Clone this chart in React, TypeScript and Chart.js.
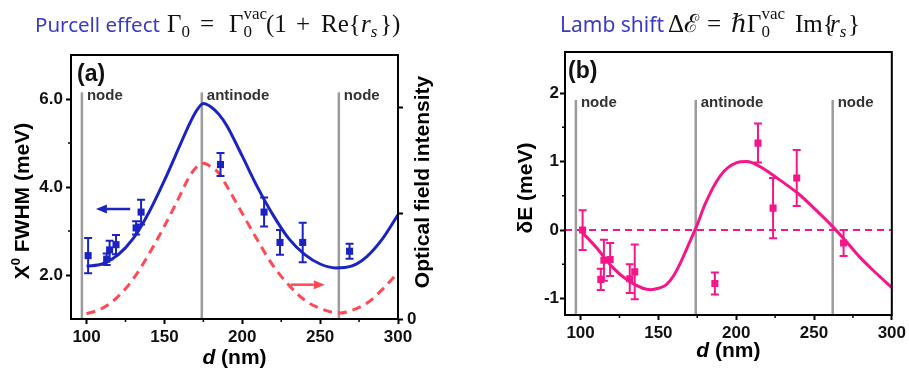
import React, { useEffect, useRef } from 'react';
import { Chart, registerables } from 'chart.js';
Chart.register(...registerables);

// ---------------- data ----------------
const X_MIN = 90;
const X_MAX = 300;
const xTickValues = [100, 150, 200, 250, 300];
const xMinorTicks = [125, 175, 225, 275];

const fwhmTicks = [2, 4, 6];
const fwhmMinor = [3, 5];
const intensityTicks = [0, 0.5, 1];
const shiftTicks = [-1, 0, 1, 2];
const shiftMinor = [-0.5, 0.5, 1.5];

// (a) fitted FWHM curve
const fwhmFitD = [100, 110, 120, 130, 140, 150, 160, 165, 170, 175, 180, 185, 190, 200, 210, 220, 230, 240, 250, 260, 270, 280, 290, 300];
const fwhmFitVal = [2.2, 2.25, 2.45, 2.83, 3.42, 4.15, 4.95, 5.35, 5.7, 5.9, 5.82, 5.65, 5.4, 4.7, 3.98, 3.35, 2.82, 2.47, 2.25, 2.16, 2.2, 2.42, 2.82, 3.37];

// (a) optical field intensity (right axis)
const intensityD = [100, 110, 120, 130, 140, 150, 160, 165, 170, 175, 180, 185, 190, 200, 210, 220, 230, 240, 250, 262, 270, 280, 290, 300];
const intensityVal = [0.025, 0.05, 0.105, 0.19, 0.307, 0.44, 0.585, 0.66, 0.715, 0.737, 0.72, 0.69, 0.63, 0.5, 0.37, 0.25, 0.16, 0.09, 0.05, 0.028, 0.04, 0.075, 0.14, 0.22];

// (a) measured FWHM
const fwhmD = [101, 112.9, 114.8, 118.9, 131.8, 135, 186, 214, 224.2, 238.8, 268.9];
const fwhmVal = [2.44, 2.36, 2.57, 2.69, 3.07, 3.43, 4.51, 3.43, 2.74, 2.74, 2.54];
const fwhmErr = [0.4, 0.13, 0.21, 0.22, 0.15, 0.28, 0.26, 0.33, 0.28, 0.45, 0.17];

// (b) fitted Lamb shift curve
const shiftFitD = [100, 110, 120, 130, 140, 145, 150, 155, 160, 165, 170, 175, 180, 190, 200, 207, 215, 220, 230, 240, 250, 262, 270, 280, 290, 300];
const shiftFitVal = [-0.01, -0.25, -0.53, -0.73, -0.85, -0.87, -0.85, -0.8, -0.66, -0.44, -0.18, 0.08, 0.38, 0.8, 0.98, 1.0, 0.93, 0.86, 0.7, 0.53, 0.32, 0.05, -0.15, -0.41, -0.63, -0.84];

// (b) measured shift
const shiftD = [101.3, 113, 115, 119, 131.6, 134.8, 186.3, 214, 223.7, 238.9, 269];
const shiftVal = [0, -0.72, -0.44, -0.43, -0.71, -0.61, -0.78, 1.27, 0.32, 0.76, -0.19];
const shiftErr = [0.29, 0.155, 0.3, 0.24, 0.21, 0.4, 0.16, 0.285, 0.44, 0.41, 0.19];

const zeroLineD = [X_MIN, X_MAX];
const zeroLineVal = [0, 0];

const nodeD = [97, 174, 262];
const nodeNames = ['node', 'antinode', 'node'];

// ---------------- styles ----------------
const BLUE = '#1b24c0';
const RED = '#ff4a55';
const PINK = '#f5168a';
const GRAY = '#9b9b9b';
const SANS = '"Liberation Sans", Arial, sans-serif';

Chart.defaults.font.family = SANS;

type Part = { t: string; font: string; rise?: number };

function drawRich(ctx: CanvasRenderingContext2D, parts: Part[], cx: number, by: number, rotate: boolean) {
  ctx.save();
  ctx.fillStyle = '#000';
  ctx.textBaseline = 'alphabetic';
  ctx.textAlign = 'left';
  let total = 0;
  const widths = parts.map((p) => {
    ctx.font = p.font;
    const w = ctx.measureText(p.t).width;
    total += w;
    return w;
  });
  if (rotate) {
    ctx.translate(by, cx);
    ctx.rotate(-Math.PI / 2);
  } else {
    ctx.translate(cx, by);
  }
  let x = -total / 2;
  parts.forEach((p, i) => {
    ctx.font = p.font;
    ctx.fillText(p.t, x, -(p.rise || 0));
    x += widths[i];
  });
  ctx.restore();
}

function drawArrow(ctx: CanvasRenderingContext2D, x1: number, x2: number, y: number, color: string) {
  const dir = Math.sign(x2 - x1);
  const hl = 11;
  const hw = 4.5;
  ctx.save();
  ctx.strokeStyle = color;
  ctx.fillStyle = color;
  ctx.lineWidth = 2.5;
  ctx.beginPath();
  ctx.moveTo(x1, y);
  ctx.lineTo(x2 - dir * hl, y);
  ctx.stroke();
  ctx.beginPath();
  ctx.moveTo(x2, y);
  ctx.lineTo(x2 - dir * hl, y - hw);
  ctx.lineTo(x2 - dir * hl, y + hw);
  ctx.closePath();
  ctx.fill();
  ctx.restore();
}

type DecorCfg = {
  nodeTop: number;
  labelBaseline: number;
  minorY: number[];
  errD: number[];
  errVal: number[];
  errSize: number[];
  errColor: string;
  panel: string;
  panelX: number;
  panelY: number;
  extra: (chart: any, ctx: CanvasRenderingContext2D) => void;
};

function decor(cfg: DecorCfg) {
  return {
    id: 'decor',
    beforeDatasetsDraw(chart: any) {
      const ctx = chart.ctx as CanvasRenderingContext2D;
      const xs = chart.scales.x;
      const ys = chart.scales.y;
      const a = chart.chartArea;
      ctx.save();
      ctx.strokeStyle = GRAY;
      ctx.lineWidth = 2.5;
      nodeD.forEach((d) => {
        const x = xs.getPixelForValue(d);
        ctx.beginPath();
        ctx.moveTo(x, ys.getPixelForValue(cfg.nodeTop));
        ctx.lineTo(x, a.bottom);
        ctx.stroke();
      });
      ctx.fillStyle = '#333';
      ctx.font = `bold 15px ${SANS}`;
      ctx.textBaseline = 'alphabetic';
      nodeD.forEach((d, i) => {
        const x = xs.getPixelForValue(d);
        ctx.fillText(nodeNames[i], x + 5, cfg.labelBaseline);
      });
      ctx.restore();
    },
    afterDatasetsDraw(chart: any) {
      const ctx = chart.ctx as CanvasRenderingContext2D;
      const xs = chart.scales.x;
      const ys = chart.scales.y;
      ctx.save();
      ctx.strokeStyle = cfg.errColor;
      ctx.lineWidth = 2;
      cfg.errD.forEach((d, i) => {
        const x = xs.getPixelForValue(d);
        const y1 = ys.getPixelForValue(cfg.errVal[i] + cfg.errSize[i]);
        const y2 = ys.getPixelForValue(cfg.errVal[i] - cfg.errSize[i]);
        ctx.beginPath();
        ctx.moveTo(x, y1);
        ctx.lineTo(x, y2);
        ctx.moveTo(x - 4, y1);
        ctx.lineTo(x + 4, y1);
        ctx.moveTo(x - 4, y2);
        ctx.lineTo(x + 4, y2);
        ctx.stroke();
      });
      ctx.restore();
    },
    afterDraw(chart: any) {
      const ctx = chart.ctx as CanvasRenderingContext2D;
      const a = chart.chartArea;
      const xs = chart.scales.x;
      const ys = chart.scales.y;
      ctx.save();
      ctx.strokeStyle = '#000';
      ctx.lineWidth = 2;
      ctx.strokeRect(a.left, a.top, a.right - a.left, a.bottom - a.top);
      ctx.lineWidth = 1.5;
      ctx.beginPath();
      xMinorTicks.forEach((v) => {
        const x = xs.getPixelForValue(v);
        ctx.moveTo(x, a.bottom);
        ctx.lineTo(x, a.bottom + 3);
      });
      cfg.minorY.forEach((v) => {
        const y = ys.getPixelForValue(v);
        ctx.moveTo(a.left, y);
        ctx.lineTo(a.left - 3, y);
      });
      ctx.stroke();
      ctx.fillStyle = '#111';
      ctx.font = `bold 23px ${SANS}`;
      ctx.textBaseline = 'alphabetic';
      ctx.fillText(cfg.panel, cfg.panelX, cfg.panelY);
      ctx.restore();
      cfg.extra(chart, ctx);
    },
  };
}

const tickFont = { family: SANS, size: 17, weight: 'bold' as const };

function xScale(height: number) {
  return {
    type: 'linear',
    position: 'bottom',
    min: X_MIN,
    max: X_MAX,
    afterBuildTicks: (s: any) => {
      s.ticks = xTickValues.map((v) => ({ value: v }));
    },
    afterFit: (s: any) => {
      s.height = height;
    },
    ticks: { font: tickFont, color: '#111', padding: 3, maxRotation: 0, autoSkip: false },
    grid: { drawOnChartArea: false, tickLength: 5, tickWidth: 2, tickColor: '#000' },
    border: { display: false },
  };
}

const pts = (xs: number[], ys: number[]) => xs.map((x, i) => ({ x, y: ys[i] }));

// positioned math pieces for the headings
const SERIF = '"Liberation Serif", "DejaVu Serif", serif';
type Piece = { x: number; t: React.ReactNode };

export default function App() {
  const refA = useRef<HTMLCanvasElement>(null);
  const refB = useRef<HTMLCanvasElement>(null);

  useEffect(() => {
    const chartA = new Chart(refA.current as HTMLCanvasElement, {
      type: 'line',
      data: {
        datasets: [
          {
            data: pts(fwhmD, fwhmVal),
            showLine: false,
            pointStyle: 'rect',
            pointRadius: 5,
            backgroundColor: BLUE,
            borderColor: BLUE,
            borderWidth: 0,
            yAxisID: 'y',
          },
          {
            data: pts(fwhmFitD, fwhmFitVal),
            borderColor: BLUE,
            borderWidth: 3,
            pointRadius: 0,
            cubicInterpolationMode: 'monotone',
            yAxisID: 'y',
          },
          {
            data: pts(intensityD, intensityVal),
            borderColor: RED,
            borderWidth: 3,
            borderDash: [9, 6],
            pointRadius: 0,
            cubicInterpolationMode: 'monotone',
            yAxisID: 'y2',
          },
        ],
      } as any,
      options: {
        animation: false,
        responsive: false,
        events: [],
        layout: { padding: { top: 55, left: 0, right: 0, bottom: 0 } },
        plugins: { legend: { display: false }, tooltip: { enabled: false } },
        scales: {
          x: xScale(52),
          y: {
            type: 'linear',
            position: 'left',
            min: 1,
            max: 7,
            afterBuildTicks: (s: any) => {
              s.ticks = fwhmTicks.map((v) => ({ value: v }));
            },
            afterFit: (s: any) => {
              s.width = 71;
            },
            ticks: { font: tickFont, color: '#111', padding: 3, callback: (v: any) => Number(v).toFixed(1) },
            grid: { drawOnChartArea: false, tickLength: 5, tickWidth: 2, tickColor: '#000' },
            border: { display: false },
          },
          y2: {
            type: 'linear',
            position: 'right',
            min: 0,
            max: 1.25,
            afterBuildTicks: (s: any) => {
              s.ticks = intensityTicks.map((v) => ({ value: v }));
            },
            afterFit: (s: any) => {
              s.width = 62;
            },
            ticks: { font: tickFont, color: '#111', padding: 4, callback: (v: any) => (v === 0 ? '0' : '') },
            grid: { drawOnChartArea: false, tickLength: 5, tickWidth: 2, tickColor: '#000' },
            border: { display: false },
          },
        },
      } as any,
      plugins: [
        decor({
          nodeTop: 6.15,
          labelBaseline: 100,
          minorY: fwhmMinor,
          errD: fwhmD,
          errVal: fwhmVal,
          errSize: fwhmErr,
          errColor: BLUE,
          panel: '(a)',
          panelX: 77,
          panelY: 81,
          extra: (chart: any, ctx: CanvasRenderingContext2D) => {
            const xs = chart.scales.x;
            const ys = chart.scales.y;
            drawArrow(ctx, xs.getPixelForValue(128), xs.getPixelForValue(106), ys.getPixelForValue(3.5), BLUE);
            drawArrow(ctx, xs.getPixelForValue(231), xs.getPixelForValue(253), ys.getPixelForValue(1.78), RED);
            const f = `bold 21px ${SANS}`;
            drawRich(ctx, [
              { t: 'X', font: f },
              { t: '0', font: `bold 13px ${SANS}`, rise: 9 },
              { t: ' FWHM (meV)', font: f },
            ], 201, 29, true);
            drawRich(ctx, [{ t: 'Optical field intensity', font: f }], 182, 429, true);
            drawRich(ctx, [
              { t: 'd', font: `italic bold 21px ${SANS}` },
              { t: ' (nm)', font: f },
            ], (chart.chartArea.left + chart.chartArea.right) / 2, 364, false);
          },
        }) as any,
      ],
    });

    const chartB = new Chart(refB.current as HTMLCanvasElement, {
      type: 'line',
      data: {
        datasets: [
          {
            data: pts(shiftD, shiftVal),
            showLine: false,
            pointStyle: 'rect',
            pointRadius: 5,
            backgroundColor: PINK,
            borderColor: PINK,
            borderWidth: 0,
          },
          {
            data: pts(shiftFitD, shiftFitVal),
            borderColor: PINK,
            borderWidth: 3,
            pointRadius: 0,
            cubicInterpolationMode: 'monotone',
          },
          {
            data: pts(zeroLineD, zeroLineVal),
            borderColor: PINK,
            borderWidth: 2,
            borderDash: [7, 5],
            pointRadius: 0,
          },
        ],
      } as any,
      options: {
        animation: false,
        responsive: false,
        events: [],
        layout: { padding: { top: 52, left: 0, right: 0, bottom: 0 } },
        plugins: { legend: { display: false }, tooltip: { enabled: false } },
        scales: {
          x: xScale(56),
          y: {
            type: 'linear',
            position: 'left',
            min: -1.24,
            max: 2.6,
            afterBuildTicks: (s: any) => {
              s.ticks = shiftTicks.map((v) => ({ value: v }));
            },
            afterFit: (s: any) => {
              s.width = 105;
            },
            ticks: { font: tickFont, color: '#111', padding: 1, callback: (v: any) => String(v) },
            grid: { drawOnChartArea: false, tickLength: 5, tickWidth: 2, tickColor: '#000' },
            border: { display: false },
          },
          y2: {
            type: 'linear',
            position: 'right',
            min: 0,
            max: 1,
            afterFit: (s: any) => {
              s.width = 17;
            },
            ticks: { display: false },
            grid: { display: false, drawTicks: false },
            border: { display: false },
          },
        },
      } as any,
      plugins: [
        decor({
          nodeTop: 1.9,
          labelBaseline: 106.5,
          minorY: shiftMinor,
          errD: shiftD,
          errVal: shiftVal,
          errSize: shiftErr,
          errColor: PINK,
          panel: '(b)',
          panelX: 108,
          panelY: 78,
          extra: (chart: any, ctx: CanvasRenderingContext2D) => {
            const f = `bold 21px ${SANS}`;
            drawRich(ctx, [{ t: 'δE (meV)', font: f }], 188, 72, true);
            drawRich(ctx, [
              { t: 'd', font: `italic bold 21px ${SANS}` },
              { t: ' (nm)', font: f },
            ], (chart.chartArea.left + chart.chartArea.right) / 2, 357, false);
          },
        }) as any,
      ],
    });

    return () => {
      chartA.destroy();
      chartB.destroy();
    };
  }, []);

  const sub: React.CSSProperties = { position: 'relative', top: 5, fontSize: 17 };
  const stack = (
    <span
      style={{
        display: 'inline-flex',
        flexDirection: 'column',
        position: 'relative',
        top: -13,
        fontSize: 17,
        lineHeight: '18px',
        verticalAlign: 'baseline',
      }}
    >
      <span>vac</span>
      <span>0</span>
    </span>
  );

  const purcell: Piece[] = [
    { x: 167, t: <>Γ<span style={sub}>0</span></> },
    { x: 200, t: '=' },
    { x: 229, t: <>Γ{stack}</> },
    { x: 266, t: '(1' },
    { x: 296, t: '+' },
    { x: 321, t: 'Re{' },
    { x: 361, t: <><i>r</i><i style={sub}>s</i></> },
    { x: 380, t: '})' },
  ];
  const lamb: Piece[] = [
    { x: 668, t: 'Δℰ' },
    { x: 707, t: '=' },
    { x: 731, t: <>ℏΓ{stack}</> },
    { x: 795, t: 'Im{' },
    { x: 830, t: <><i>r</i><i style={sub}>s</i></> },
    { x: 848, t: '}' },
  ];
  const renderPieces = (ps: Piece[]) =>
    ps.map((p, i) => (
      <div
        key={i}
        style={{ position: 'absolute', left: p.x, top: 4, lineHeight: '40px', whiteSpace: 'nowrap', fontFamily: SERIF, fontSize: 25, color: '#111' }}
      >
        {p.t}
      </div>
    ));

  const headStyle: React.CSSProperties = {
    position: 'absolute',
    top: 4,
    lineHeight: '40px',
    whiteSpace: 'nowrap',
    fontFamily: '"Noto Sans", sans-serif',
    color: '#3a3ac6',
  };

  return (
    <div style={{ position: 'absolute', left: 0, top: 0, width: 909, height: 371, background: '#fff', overflow: 'hidden' }}>
      <canvas ref={refA} width={460} height={371} style={{ position: 'absolute', left: 0, top: 0, display: 'block' }} />
      <canvas ref={refB} width={449} height={371} style={{ position: 'absolute', left: 460, top: 0, display: 'block' }} />
      <div style={{ ...headStyle, left: 35, fontSize: 20.5 }}>Purcell effect</div>
      {renderPieces(purcell)}
      <div style={{ ...headStyle, left: 560, fontSize: 21 }}>Lamb shift</div>
      {renderPieces(lamb)}
    </div>
  );
}
